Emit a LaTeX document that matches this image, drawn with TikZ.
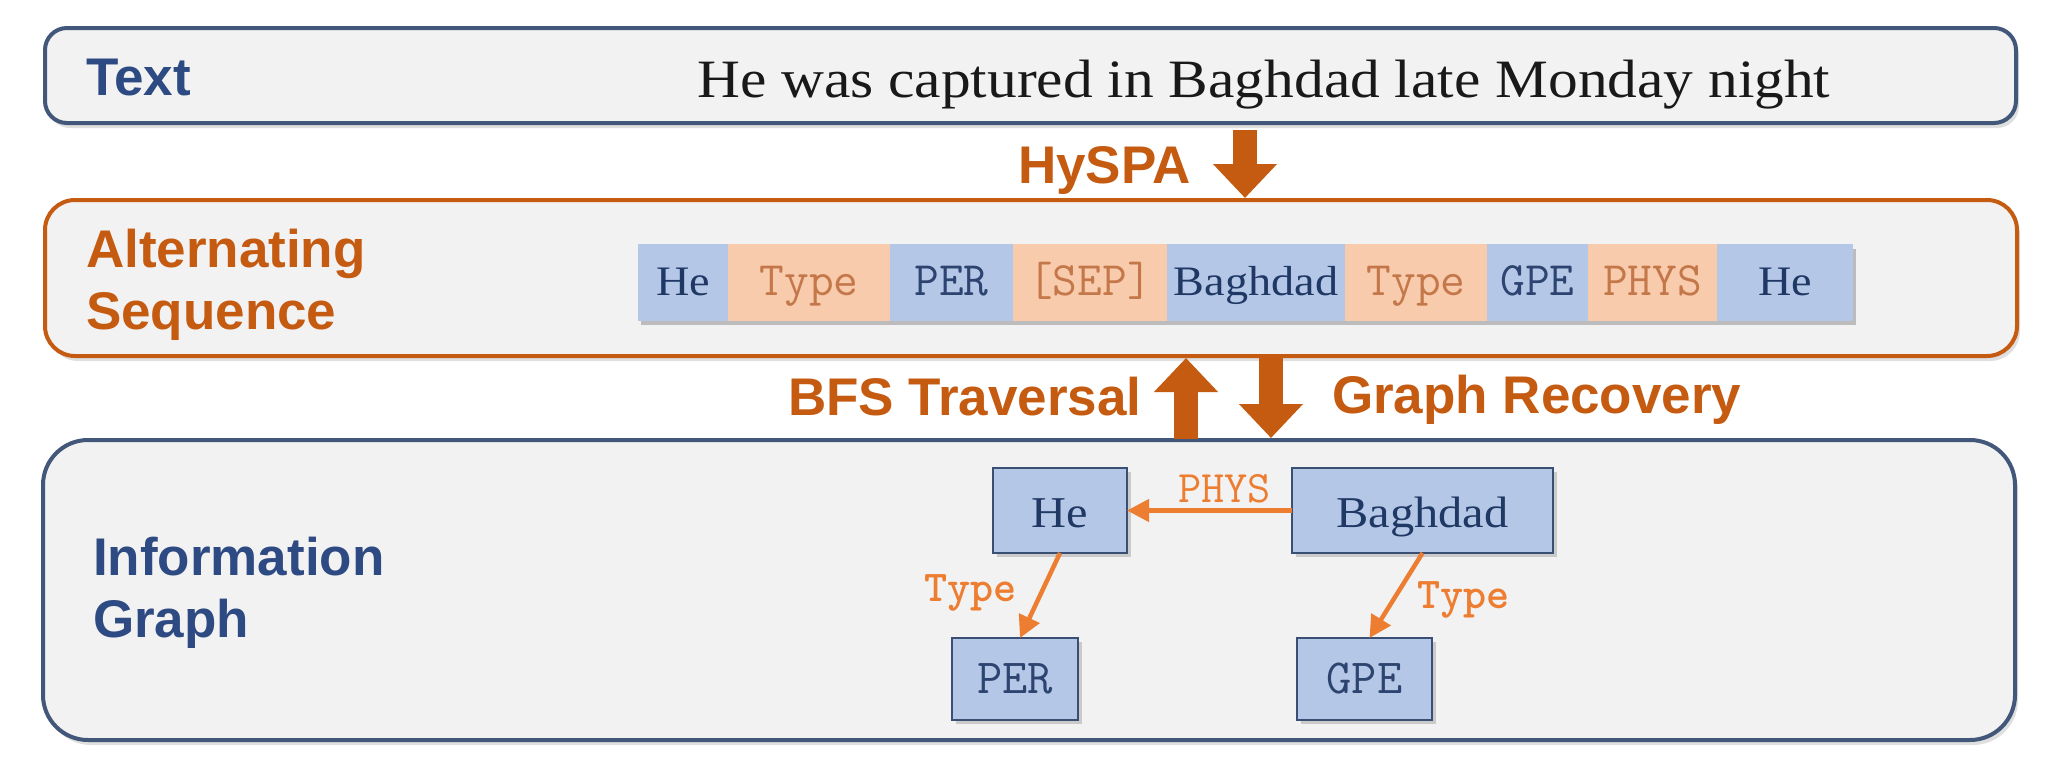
\documentclass[tikz,border=0pt]{standalone}
\usepackage{fontspec}
\usetikzlibrary{arrows.meta,shadows}
\newfontfamily\lblfont{Liberation Sans}
\newfontfamily\sentfont{Liberation Serif}[FakeStretch=1.1]
\newcommand{\tokfont}{\ttfamily}
\newfontfamily\tokbold{lmmonolt10-bold.otf}
\definecolor{boxfill}{HTML}{F2F2F2}
\definecolor{slateborder}{HTML}{42577A}
\definecolor{orborder}{HTML}{C55A11}
\definecolor{lblblue}{HTML}{2E4A82}
\definecolor{lblor}{HTML}{C55A11}
\definecolor{tokblue}{HTML}{B4C7E7}
\definecolor{tokor}{HTML}{F8CBAD}
\definecolor{navy}{HTML}{1F3864}
\definecolor{navytwo}{HTML}{2E4470}
\definecolor{tokortext}{HTML}{C4784A}
\definecolor{edgeor}{HTML}{ED7D31}
\definecolor{arrowor}{HTML}{C55A11}
\definecolor{nodeborder}{HTML}{3A4F74}
\begin{document}
\begin{tikzpicture}[x=1pt,y=-1pt,
  bigbox/.style={line width=4pt, fill=boxfill, outer sep=0pt, inner sep=0pt,
    drop shadow={shadow xshift=3pt, shadow yshift=-5pt, opacity=0.25}},
  lbl/.style={inner sep=0pt, outer sep=0pt, font=\lblfont\bfseries\fontsize{53}{62}\selectfont},
  tok/.style={minimum height=77pt, inner sep=0pt, outer sep=0pt, text height=30pt, text depth=5pt, anchor=west},
  btok/.style={tok, fill=tokblue, text=navy, font=\sentfont\fontsize{42}{46}\selectfont},
  btokm/.style={tok, fill=tokblue, text=navytwo, font=\tokfont\fontsize{48}{50}\selectfont},
  otok/.style={tok, fill=tokor, text=tokortext, font=\tokfont\fontsize{48}{50}\selectfont},
  gnode/.style={draw=nodeborder, line width=2.5pt, fill=tokblue, inner sep=0pt, outer sep=0pt,
    drop shadow={shadow xshift=4pt, shadow yshift=-4pt, opacity=0.35}},
  gser/.style={gnode, text=navy, text height=38pt, text depth=5pt, font=\sentfont\fontsize{44}{48}\selectfont},
  gmono/.style={gnode, text=navytwo, text height=33pt, text depth=5pt, font=\tokfont\fontsize{49}{52}\selectfont},
  bigarrow/.style={draw=arrowor, line width=24pt, -{Triangle[length=34pt,width=62pt]}},
  edge/.style={draw=edgeor, line width=4.5pt, -{Triangle[length=22pt,width=22pt]}},
  elbl/.style={text=edgeor, inner sep=0pt, font=\tokbold\fontsize{44}{46}\selectfont},
  plbl/.style={text=edgeor, inner sep=0pt, font=\tokfont\fontsize{45}{47}\selectfont}
]
\useasboundingbox (0,0) rectangle (2062,771);
\fill[white] (0,0) rectangle (2062,771);

% three big boxes
\node[bigbox, draw=slateborder, rounded corners=22pt, minimum width=1971pt, minimum height=95pt] (textbox) at (1030.5,75.5) {};
\node[bigbox, draw=orborder, rounded corners=30pt, minimum width=1972pt, minimum height=156pt] (altbox) at (1031,278) {};
\node[bigbox, draw=slateborder, rounded corners=45pt, minimum width=1972pt, minimum height=300pt] (graphbox) at (1029,590) {};

% labels
\node[lbl, text=lblblue, anchor=base west] (tlbl) at (86,95) {Text};
\node[lbl, text=lblor, anchor=north west, align=left] (albl) at (86,229) {Alternating\\Sequence};
\node[lbl, text=lblblue, anchor=north west, align=left] (glbl) at (93,537) {Information\\Graph};
\node[inner sep=0pt, anchor=base west, text=black!90, font=\sentfont\fontsize{54}{60}\selectfont] (sent) at (697,97) {He was captured in Baghdad late Monday night};

\node[lbl, text=lblor, anchor=base west] (hyspa) at (1018,183) {HySPA};
\node[lbl, text=lblor, anchor=base west] (bfs) at (788,415) {BFS Traversal};
\node[lbl, text=lblor, anchor=base west] (grec) at (1332,413) {Graph Recovery};

% block arrows
\coordinate (hx) at (1245,0);
\coordinate (ux) at (1186,0);
\coordinate (dx) at (1271,0);
\draw[bigarrow, shorten <=7pt, shorten >=2pt] (textbox.south -| hx) -- (altbox.north -| hx);
\draw[bigarrow, shorten <=1pt, shorten >=2pt] (graphbox.north -| ux) -- (altbox.south -| ux);
\draw[bigarrow, shorten <=1pt, shorten >=2pt] (altbox.south -| dx) -- (graphbox.north -| dx);

% sequence row
\fill[black, opacity=0.22] (641,249) rectangle (1856,325);
\node[btok, minimum width=90pt] (s1) at (638,282.5) {He};
\node[otok, minimum width=162pt] (s2) at (s1.east) {Type};
\node[btokm, minimum width=123pt] (s3) at (s2.east) {PER};
\node[otok, minimum width=154pt] (s4) at (s3.east) {[SEP]};
\node[btok, minimum width=178pt] (s5) at (s4.east) {Baghdad};
\node[otok, minimum width=142pt] (s6) at (s5.east) {Type};
\node[btokm, minimum width=101pt] (s7) at (s6.east) {GPE};
\node[otok, minimum width=129pt] (s8) at (s7.east) {PHYS};
\node[btok, minimum width=136pt] (s9) at (s8.east) {He};

% graph
\node[gser, minimum width=134pt, minimum height=85pt] (he) at (1060,510.5) {He};
\node[gser, minimum width=261pt, minimum height=85pt] (bag) at (1422.5,510.5) {Baghdad};
\node[gmono, minimum width=126pt, minimum height=82pt] (per) at (1015,679) {PER};
\node[gmono, minimum width=135pt, minimum height=82pt] (gpe) at (1364.5,679) {GPE};

\draw[edge] (bag.west) -- node[plbl, pos=0.41, anchor=south, yshift=5pt] (plab) {PHYS} (he.east);
\draw[edge] (he.south) -- node[elbl, pos=0.47, anchor=east, xshift=-22pt] (tlab1) {Type} ([xshift=5pt]per.north);
\draw[edge] (bag.south) -- node[elbl, pos=0.55, anchor=west, xshift=22pt] (tlab2) {Type} ([xshift=5pt]gpe.north);
\end{tikzpicture}
\end{document}
